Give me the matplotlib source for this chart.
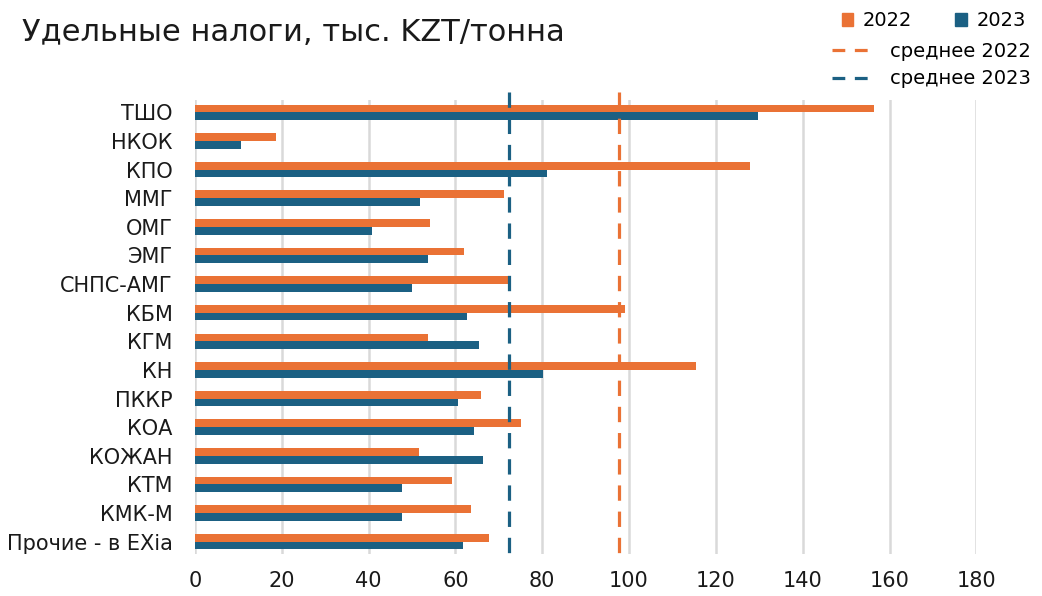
import numpy as np
import matplotlib.pyplot as plt
from matplotlib.patches import Patch
from matplotlib.lines import Line2D

companies = ['ТШО', 'НКОК', 'КПО', 'ММГ', 'ОМГ', 'ЭМГ', 'СНПС-АМГ', 'КБМ',
             'КГМ', 'КН', 'ПККР', 'КОА', 'КОЖАН', 'КТМ', 'КМК-М', 'Прочие - в EXia']
taxes_2022 = [156.5, 18.7, 127.9, 71.1, 54.1, 62.1, 72.1, 99.0,
              53.8, 115.4, 66.0, 75.1, 51.6, 59.2, 63.5, 67.7]
taxes_2023 = [129.6, 10.6, 81.1, 51.8, 40.8, 53.8, 50.1, 62.7,
              65.5, 80.2, 60.7, 64.4, 66.4, 47.6, 47.8, 61.8]
avg_2022 = 97.8
avg_2023 = 72.4

orange = '#EA7235'
blue = '#1B6083'
dash = (0, (4.8, 3.4))

plt.rcParams['font.family'] = ['DejaVu Sans']

fig = plt.figure(figsize=(10.42, 5.96), dpi=100)
ax = fig.add_axes([0.187, 0.0705, 0.75, 0.7625])

y = np.arange(len(companies))
h = 0.27
ax.barh(y - h / 2, taxes_2022, height=h, color=orange, zorder=3)
ax.barh(y + h / 2, taxes_2023, height=h, color=blue, zorder=3)

ax.vlines(avg_2022, -0.7, 15.43, colors=orange, linestyles=dash,
          linewidth=2.3, zorder=4, clip_on=False)
ax.vlines(avg_2023, -0.7, 15.43, colors=blue, linestyles=dash,
          linewidth=2.3, zorder=4, clip_on=False)

ax.set_xlim(0, 180)
ax.set_ylim(15.43, -0.445)
ax.set_xticks(np.arange(0, 181, 20))
ax.set_yticks(y)
ax.set_yticklabels(companies)
ax.tick_params(axis='both', length=0, labelsize=15, colors='#1a1a1a')
ax.tick_params(axis='y', pad=16)
ax.tick_params(axis='x', pad=12)
ax.grid(axis='x', color='#d9d9d9', linewidth=1.8, zorder=0)
for s in ax.spines.values():
    s.set_visible(False)

fig.text(0.021, 0.946, 'Удельные налоги, тыс. KZT/тонна', fontsize=22,
         va='center', ha='left', color='#1a1a1a')

bar_handles = [Patch(color=orange, label='2022'), Patch(color=blue, label='2023')]
leg1 = fig.legend(handles=bar_handles, loc='center right', bbox_to_anchor=(0.992, 0.965),
                  ncol=2, frameon=False, fontsize=14, handlelength=0.6, handleheight=0.6,
                  handletextpad=0.5, columnspacing=2.2, borderaxespad=0)
line_handles = [Line2D([], [], color=orange, linestyle=(0, (4, 3)), linewidth=2.3, label='среднее 2022'),
                Line2D([], [], color=blue, linestyle=(0, (4, 3)), linewidth=2.3, label='среднее 2023')]
leg2 = fig.legend(handles=line_handles, loc='upper right', bbox_to_anchor=(0.997, 0.943),
                  frameon=False, fontsize=14, handlelength=2.1, handletextpad=0.9,
                  labelspacing=0.45, borderaxespad=0)

fig.savefig('out.png', dpi=100)
